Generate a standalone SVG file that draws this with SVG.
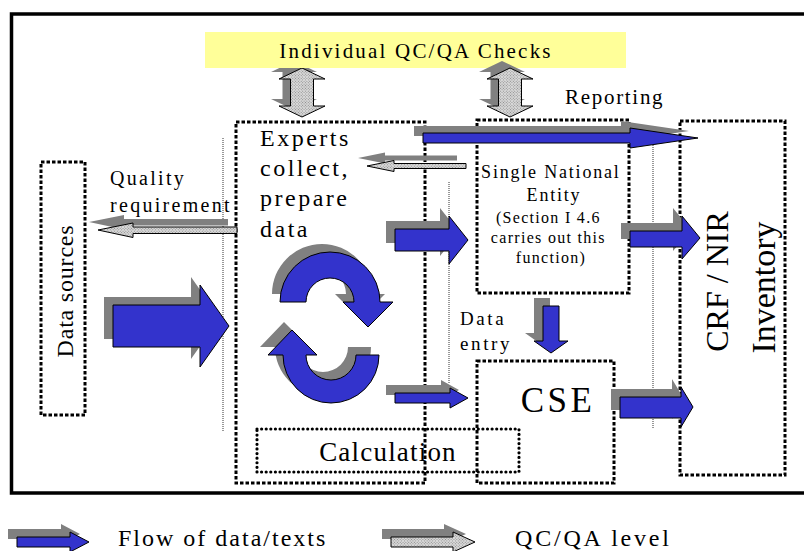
<svg xmlns="http://www.w3.org/2000/svg" xmlns:xlink="http://www.w3.org/1999/xlink" width="804" height="551" viewBox="0 0 804 551">
  <style>
    .frame { fill: none; stroke: #000; stroke-width: 3.5; }
    .box { fill: none; stroke: #000; stroke-width: 3; stroke-dasharray: 3.5 2; }
    .calc { fill: none; stroke: #000; stroke-width: 3.2; stroke-linecap: round; stroke-dasharray: 0.01 4.6; }
    .guide { fill: none; stroke: #333; stroke-width: 1; stroke-dasharray: 1 1; }
    .blue { fill: #3333cc; stroke: #000; stroke-width: 1; }
    .hatched { fill: url(#hatch); stroke: #000; stroke-width: 1; }
    .shadow { fill: #808080; stroke: none; }
  </style>
  <defs>
    <pattern id="hatch" width="2" height="2" patternUnits="userSpaceOnUse" patternTransform="rotate(45)">
      <rect width="2" height="2" fill="#dadada"/>
      <rect width="1" height="1" fill="#8c8c8c"/>
    </pattern>
    <!-- arrow outlines, reused for the offset drop shadows -->
    <polygon id="dbl1" points="302,68 325,79 313.5,79 313.5,106 325,106 302,117 279,106 290.5,106 290.5,79 279,79"/>
    <polygon id="dbl2" points="510,68 533,79 521.5,79 521.5,106 533,106 510,117 487,106 498.5,106 498.5,79 487,79"/>
    <polygon id="qreq" points="98,230 133,223 133,227 237,227 237,233.5 133,233.5 133,237.5"/>
    <polygon id="back" points="367,166 394,160.5 394,163.5 466,163.5 466,168.5 394,168.5 394,171.5"/>
    <polygon id="aDs" points="113,305 200,305 200,285 229,326 200,367 200,347 113,347"/>
    <polygon id="aEs" points="395,229 449,229 449,216 468,240 449,264 449,251 395,251"/>
    <polygon id="aSc" points="630,231 682,231 682,216 700,238 682,259 682,247 630,247"/>
    <polygon id="aRep" points="423,133 630,133 630,128 698,138 630,148 630,143 423,143"/>
    <polygon id="aDown" points="543,306 559,306 559,341 568,341 551,353 534,341 543,341"/>
    <polygon id="aLow" points="395,393 450,393 450,388 468,398 450,408 450,403 395,403"/>
    <polygon id="aCc" points="620,397 681,397 681,387 693,407 681,427 681,418 620,418"/>
    <path id="cycUp" d="M280,302 A50,50 0 0 1 380,302 L393,302 L368,327 L343,302 L354,302 A24,24 0 0 0 306,302 Z"/>
    <path id="cycDn" d="M356,355 L379,355 A48,48 0 0 1 283,355 L268,355 L292,330 L317,355 L306,355 A25,25 0 0 0 356,355 Z"/>
    <polygon id="lgBlue" points="17,537 70,537 70,532 89,542 70,552 70,547 17,547"/>
    <polygon id="lgHatch" points="391,537 453,537 453,532 475,542 453,552 453,547 391,547"/>
  </defs>

  <rect x="0" y="0" width="804" height="551" fill="#fff"/>
  <rect class="frame" x="11.5" y="14" width="800" height="479"/>

  <!-- QC/QA check exchange, left -->
  <g id="qc-link-experts">
    <use xlink:href="#dbl1" class="shadow" transform="translate(-8,-7)"/>
    <use xlink:href="#dbl1" class="hatched"/>
  </g>

  <g font-family="Liberation Serif, DejaVu Serif, serif" fill="#000">
  <g id="qc-checks">
    <rect x="205" y="32" width="421" height="36" fill="#ffff99"/>
    <text x="416" y="58" font-size="21" letter-spacing="2.2" text-anchor="middle">Individual QC/QA Checks</text>
  </g>

  <g id="data-sources">
    <rect class="box" x="41" y="162" width="44" height="253"/>
    <text transform="translate(73,291) rotate(-90)" font-size="24" letter-spacing="0.8" text-anchor="middle">Data sources</text>
  </g>

  <g id="experts">
    <rect class="box" x="236" y="122" width="189" height="361"/>
    <text font-size="24" letter-spacing="2.5">
      <tspan x="260" y="146">Experts</tspan>
      <tspan x="260" y="176">collect,</tspan>
      <tspan x="260" y="206">prepare</tspan>
      <tspan x="260" y="237">data</tspan>
    </text>
  </g>

  <g id="single-national-entity">
    <rect class="box" x="477" y="120" width="152" height="173"/>
    <text font-size="18" letter-spacing="1.8" text-anchor="middle">
      <tspan x="554" y="178">Single National</tspan>
      <tspan x="554" y="201">Entity</tspan>
    </text>
    <text font-size="16" letter-spacing="1.3" text-anchor="middle">
      <tspan x="551" y="223">(Section I 4.6</tspan>
      <tspan x="551" y="243">carries out this</tspan>
      <tspan x="551" y="263">function)</tspan>
    </text>
  </g>

  <g id="cse">
    <rect class="box" x="477" y="361" width="137" height="122"/>
    <text x="558" y="412" font-size="35" letter-spacing="3.5" text-anchor="middle">CSE</text>
  </g>

  <g id="calculation">
    <rect class="calc" x="257" y="429" width="262" height="43"/>
    <text x="388" y="461" font-size="27" letter-spacing="1.2" text-anchor="middle">Calculation</text>
  </g>

  <g id="crf-nir-inventory">
    <rect class="box" x="680" y="121" width="105" height="354"/>
    <text transform="translate(728,281.5) rotate(-90)" font-size="32" text-anchor="middle">CRF / NIR</text>
    <text transform="translate(775,287.5) rotate(-90)" font-size="34" text-anchor="middle">Inventory</text>
  </g>

  <g id="labels">
    <text font-size="20" letter-spacing="2.3">
      <tspan x="110" y="185">Quality</tspan>
      <tspan x="110" y="212">requirement</tspan>
    </text>
    <text x="565" y="104" font-size="21" letter-spacing="1.7">Reporting</text>
    <text font-size="19" letter-spacing="2.6">
      <tspan x="460" y="325">Data</tspan>
      <tspan x="460" y="350">entry</tspan>
    </text>
  </g>
  </g>

  <g id="connectors">
    <!-- thin level separators -->
    <line class="guide" x1="223" y1="138" x2="223" y2="432"/>
    <line class="guide" x1="449" y1="182" x2="449" y2="383"/>
    <line class="guide" x1="653" y1="145" x2="653" y2="428"/>

    <!-- QC/QA check exchange, right -->
    <use xlink:href="#dbl2" class="shadow" transform="translate(-8,-7)"/>
    <use xlink:href="#dbl2" class="hatched"/>

    <!-- quality feedback (QC/QA level) -->
    <use xlink:href="#qreq" class="shadow" transform="translate(-9,-8)"/>
    <use xlink:href="#qreq" class="hatched"/>
    <use xlink:href="#back" class="shadow" transform="translate(-9,-8)"/>
    <use xlink:href="#back" class="hatched"/>

    <!-- data flows -->
    <use xlink:href="#aDs" class="shadow" transform="translate(-9,-8)"/>
    <use xlink:href="#aDs" class="blue"/>
    <use xlink:href="#aRep" class="shadow" transform="translate(-9,-7)"/>
    <use xlink:href="#aRep" class="blue"/>
    <use xlink:href="#aEs" class="shadow" transform="translate(-9,-8)"/>
    <use xlink:href="#aEs" class="blue"/>
    <use xlink:href="#aSc" class="shadow" transform="translate(-9,-8)"/>
    <use xlink:href="#aSc" class="blue"/>
    <use xlink:href="#aDown" class="shadow" transform="translate(-9,-8)"/>
    <use xlink:href="#aDown" class="blue"/>
    <use xlink:href="#aLow" class="shadow" transform="translate(-9,-8)"/>
    <use xlink:href="#aLow" class="blue"/>
    <use xlink:href="#aCc" class="shadow" transform="translate(-9,-8)"/>
    <use xlink:href="#aCc" class="blue"/>

    <!-- iteration cycle inside the experts box -->
    <use xlink:href="#cycUp" class="shadow" transform="translate(-8,-8)"/>
    <use xlink:href="#cycUp" class="blue"/>
    <use xlink:href="#cycDn" class="shadow" transform="translate(-8,-8)"/>
    <use xlink:href="#cycDn" class="blue"/>
  </g>

  <g id="legend" font-family="Liberation Serif, DejaVu Serif, serif">
    <use xlink:href="#lgBlue" class="shadow" transform="translate(-9,-8)"/>
    <use xlink:href="#lgBlue" class="blue"/>
    <text x="118" y="546" font-size="24" letter-spacing="2">Flow of data/texts</text>
    <use xlink:href="#lgHatch" class="shadow" transform="translate(-9,-8)"/>
    <use xlink:href="#lgHatch" class="hatched"/>
    <text x="515" y="546" font-size="24" letter-spacing="2.8">QC/QA level</text>
  </g>
</svg>
